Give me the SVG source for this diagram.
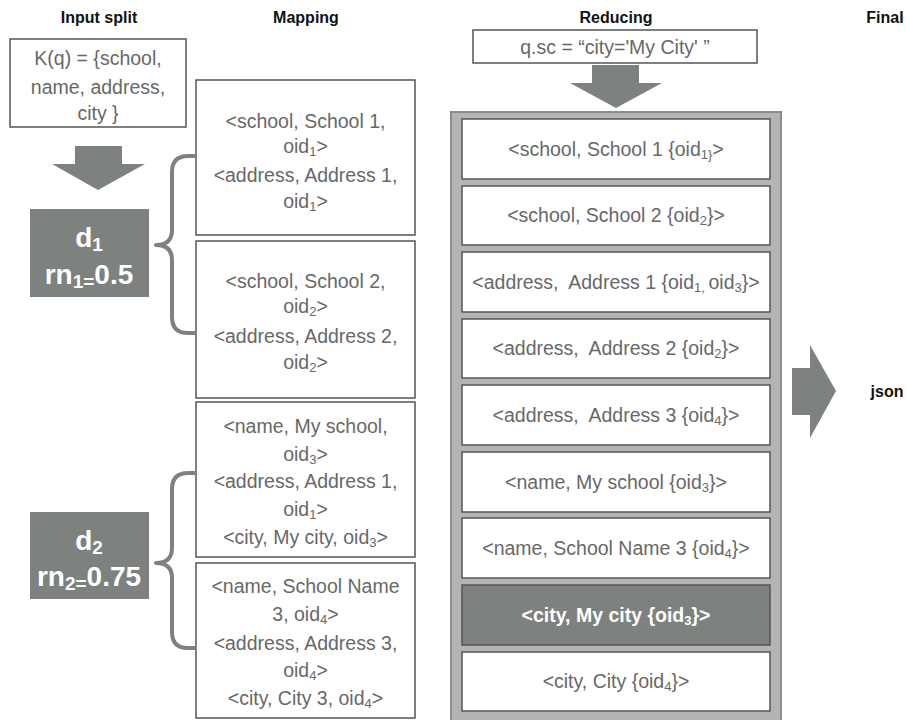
<svg xmlns="http://www.w3.org/2000/svg" width="907" height="720" viewBox="0 0 907 720">
  <style>
    .hdr { font-family: "Liberation Sans", Arial, sans-serif; font-size: 16px; font-weight: bold; fill: #111; text-anchor: middle; }
    .t { font-family: "Liberation Sans", Arial, sans-serif; font-size: 19.5px; fill: #686868; text-anchor: middle; white-space: pre; }
    .tb { font-family: "Liberation Sans", Arial, sans-serif; font-size: 19.5px; font-weight: bold; fill: #ffffff; text-anchor: middle; white-space: pre; }
    .big { font-family: "Liberation Sans", Arial, sans-serif; font-size: 28px; font-weight: bold; fill: #ffffff; text-anchor: middle; }
    .box { fill: #ffffff; stroke: #555555; stroke-width: 1.5; }
    .dark { fill: #7d827f; }
    .darkbox { fill: #7d827f; stroke: #555555; stroke-width: 1.5; }
    .brace { fill: none; stroke: #7d827f; stroke-width: 4; stroke-linejoin: round; }
    .sub { font-size: 13px; }
    .bsub { font-size: 19px; }
  </style>

  <rect width="907" height="720" fill="#ffffff"/>

  <!-- column headers -->
  <g id="headers">
    <text class="hdr" x="99" y="23">Input split</text>
    <text class="hdr" x="306" y="23">Mapping</text>
    <text class="hdr" x="616" y="23">Reducing</text>
    <text class="hdr" x="885" y="23">Final</text>
  </g>

  <!-- input split -->
  <g id="kq">
    <rect class="box" x="10" y="39" width="176" height="88"/>
    <text class="t" x="98" y="65">K(q) = {school,</text>
    <text class="t" x="98" y="94">name, address,</text>
    <text class="t" x="98" y="120">city }</text>
  </g>

  <g id="d1">
    <rect class="dark" x="30" y="209" width="119" height="88"/>
    <text class="big" x="89" y="247">d<tspan class="bsub" dy="4">1</tspan></text>
    <text class="big" x="89" y="284">rn<tspan class="bsub" dy="4">1=</tspan><tspan dy="-4">0.5</tspan></text>
  </g>

  <g id="d2">
    <rect class="dark" x="30" y="512" width="119" height="87"/>
    <text class="big" x="89" y="550">d<tspan class="bsub" dy="4">2</tspan></text>
    <text class="big" x="89" y="586">rn<tspan class="bsub" dy="4">2=</tspan><tspan dy="-4">0.75</tspan></text>
  </g>

  <!-- mapping outputs -->
  <g id="map1">
    <rect class="box" x="196" y="80" width="219" height="155"/>
    <text class="t" x="305.5" y="128">&lt;school, School 1,</text>
    <text class="t" x="305.5" y="153">oid<tspan class="sub" dy="3">1</tspan><tspan dy="-3">&gt;</tspan></text>
    <text class="t" x="305.5" y="182">&lt;address, Address 1,</text>
    <text class="t" x="305.5" y="208">oid<tspan class="sub" dy="3">1</tspan><tspan dy="-3">&gt;</tspan></text>
  </g>

  <g id="map2">
    <rect class="box" x="196" y="241" width="219" height="157"/>
    <text class="t" x="305.5" y="288">&lt;school, School 2,</text>
    <text class="t" x="305.5" y="313">oid<tspan class="sub" dy="3">2</tspan><tspan dy="-3">&gt;</tspan></text>
    <text class="t" x="305.5" y="343">&lt;address, Address 2,</text>
    <text class="t" x="305.5" y="369">oid<tspan class="sub" dy="3">2</tspan><tspan dy="-3">&gt;</tspan></text>
  </g>

  <g id="map3">
    <rect class="box" x="196" y="402" width="219" height="155"/>
    <text class="t" x="305.5" y="433">&lt;name, My school,</text>
    <text class="t" x="305.5" y="461">oid<tspan class="sub" dy="3">3</tspan><tspan dy="-3">&gt;</tspan></text>
    <text class="t" x="305.5" y="488">&lt;address, Address 1,</text>
    <text class="t" x="305.5" y="516">oid<tspan class="sub" dy="3">1</tspan><tspan dy="-3">&gt;</tspan></text>
    <text class="t" x="305.5" y="544">&lt;city, My city, oid<tspan class="sub" dy="3">3</tspan><tspan dy="-3">&gt;</tspan></text>
  </g>

  <g id="map4">
    <rect class="box" x="196" y="563" width="219" height="155"/>
    <text class="t" x="305.5" y="593">&lt;name, School Name</text>
    <text class="t" x="305.5" y="621">3, oid<tspan class="sub" dy="3">4</tspan><tspan dy="-3">&gt;</tspan></text>
    <text class="t" x="305.5" y="650">&lt;address, Address 3,</text>
    <text class="t" x="305.5" y="677">oid<tspan class="sub" dy="3">4</tspan><tspan dy="-3">&gt;</tspan></text>
    <text class="t" x="305.5" y="705">&lt;city, City 3, oid<tspan class="sub" dy="3">4</tspan><tspan dy="-3">&gt;</tspan></text>
  </g>

  <!-- reducing -->
  <g id="filter">
    <rect class="box" x="473" y="30" width="284" height="33"/>
    <text class="t" x="615" y="54">q.sc = “city='My City' ”</text>
  </g>

  <g id="reducer">
    <rect x="451" y="112" width="330" height="612" fill="#b4b4b4" stroke="#8c8c8c" stroke-width="2"/>
    <g id="r1">
      <rect class="box" x="462" y="119" width="308" height="60"/>
      <text class="t" x="616" y="156">&lt;school, School 1 {oid<tspan class="sub" dy="3">1}</tspan><tspan dy="-3">&gt;</tspan></text>
    </g>
    <g id="r2">
      <rect class="box" x="462" y="186" width="308" height="59"/>
      <text class="t" x="616" y="222">&lt;school, School 2 {oid<tspan class="sub" dy="3">2</tspan><tspan dy="-3">}&gt;</tspan></text>
    </g>
    <g id="r3">
      <rect class="box" x="462" y="252" width="308" height="60"/>
      <text class="t" x="616" y="289">&lt;address,  Address 1 {oid<tspan class="sub" dy="3">1, </tspan><tspan dy="-3">oid</tspan><tspan class="sub" dy="3">3</tspan><tspan dy="-3">}&gt;</tspan></text>
    </g>
    <g id="r4">
      <rect class="box" x="462" y="319" width="308" height="59"/>
      <text class="t" x="616" y="355">&lt;address,  Address 2 {oid<tspan class="sub" dy="3">2</tspan><tspan dy="-3">}&gt;</tspan></text>
    </g>
    <g id="r5">
      <rect class="box" x="462" y="385" width="308" height="60"/>
      <text class="t" x="616" y="422">&lt;address,  Address 3 {oid<tspan class="sub" dy="3">4</tspan><tspan dy="-3">}&gt;</tspan></text>
    </g>
    <g id="r6">
      <rect class="box" x="462" y="452" width="308" height="60"/>
      <text class="t" x="616" y="489">&lt;name, My school {oid<tspan class="sub" dy="3">3</tspan><tspan dy="-3">}&gt;</tspan></text>
    </g>
    <g id="r7">
      <rect class="box" x="462" y="518" width="308" height="60"/>
      <text class="t" x="616" y="555">&lt;name, School Name 3 {oid<tspan class="sub" dy="3">4</tspan><tspan dy="-3">}&gt;</tspan></text>
    </g>
    <g id="r8">
      <rect class="darkbox" x="462" y="585" width="308" height="60"/>
      <text class="tb" x="616" y="622">&lt;city, My city {oid<tspan class="sub" dy="3">3</tspan><tspan dy="-3">}&gt;</tspan></text>
    </g>
    <g id="r9">
      <rect class="box" x="462" y="652" width="308" height="59"/>
      <text class="t" x="616" y="688">&lt;city, City {oid<tspan class="sub" dy="3">4</tspan><tspan dy="-3">}&gt;</tspan></text>
    </g>
  </g>

  <g id="final">
    <text class="hdr" x="887" y="397">json</text>
  </g>

  <!-- connectors: block arrows and braces -->
  <g id="connectors">
    <polygon class="dark" points="75,146 122,146 122,164 145,164 98,190 52,164 75,164"/>
    <polygon class="dark" points="592,65 639,65 639,83 662,83 616,108 570,83 592,83"/>
    <polygon class="dark" points="792,368 810,368 810,345 836,391 810,438 810,415 792,415"/>
    <path class="brace" d="M195,156 H188 Q172,156 172,172 V230 Q172,245 156,245 Q172,245 172,260 V317 Q172,333 188,333 H195"/>
    <path class="brace" d="M195,473 H188 Q172,473 172,489 V548 Q172,563 156,563 Q172,563 172,578 V632 Q172,648 188,648 H195"/>
  </g>
</svg>
